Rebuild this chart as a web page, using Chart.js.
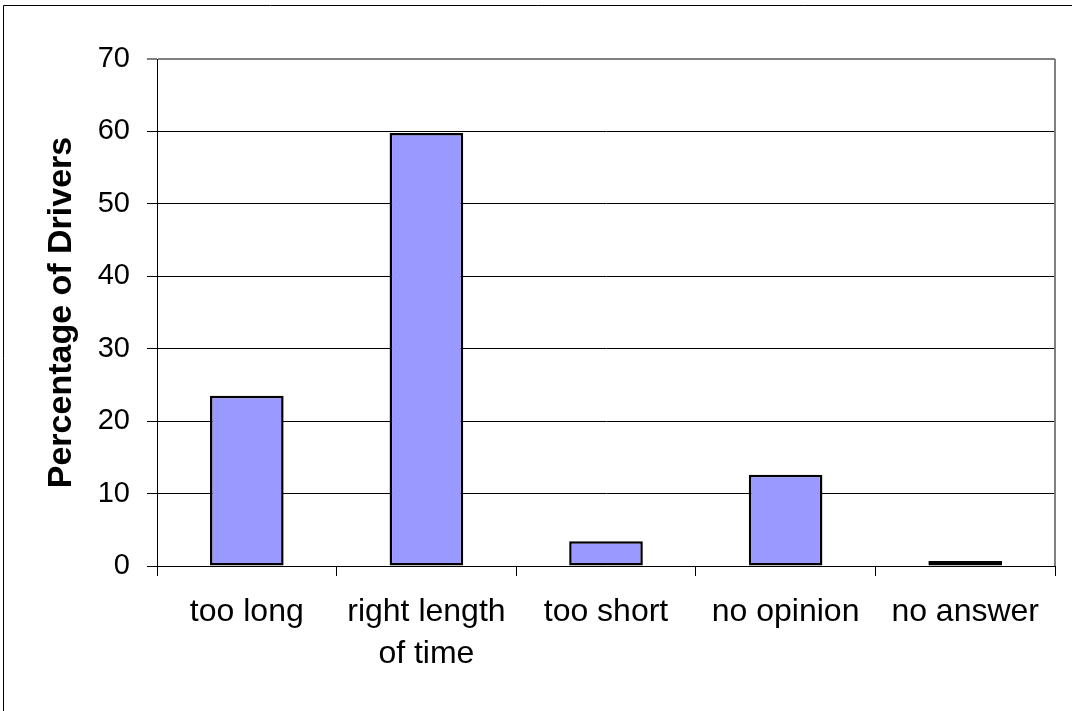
<!DOCTYPE html>
<html>
<head>
<meta charset="utf-8">
<title>Percentage of Drivers</title>
<script src="https://cdn.jsdelivr.net/npm/chart.js@4"></script>
<style>
  body { margin: 0; background: #fff; }
</style>
</head>
<body>
<canvas id="myChart" width="1072" height="711"></canvas>
<script>
// chart data
var categories = [["too long"], ["right length", "of time"], ["too short"], ["no opinion"], ["no answer"]];
var percentages = [23.5, 59.8, 3.4, 12.6, 0.7];
var yMin = 0;
var yMax = 70;
var yStep = 10;
var yTitle = "Percentage of Drivers";

var fontName = "'Liberation Sans', Arial, sans-serif";

// outer frame + grey plot border on the right
const framePlugin = {
    id: "frame",
    afterDraw: (chart) => {
        const ctx = chart.ctx;
        const a = chart.chartArea;
        ctx.save();
        ctx.strokeStyle = "#808080";
        ctx.lineWidth = 2;
        ctx.beginPath();
        ctx.moveTo(a.right, a.top);
        ctx.lineTo(a.right, a.bottom);
        ctx.stroke();
        ctx.strokeStyle = "#000";
        ctx.lineWidth = 1;
        ctx.beginPath();
        ctx.moveTo(3.5, 711);
        ctx.lineTo(3.5, 5.5);
        ctx.lineTo(1072, 5.5);
        ctx.stroke();
        ctx.restore();
    }
};

new Chart("myChart", {
    type: "bar",
    data: {
        labels: categories,
        datasets: [{
            data: percentages,
            backgroundColor: "#9999ff",
            borderColor: "#000",
            borderWidth: 2.5,
            borderSkipped: false,
            categoryPercentage: 1,
            barPercentage: 0.41
        }]
    },
    options: {
        responsive: false,
        animation: false,
        layout: {
            padding: { top: 59, right: 17, bottom: 0, left: 0 }
        },
        plugins: {
            legend: { display: false },
            tooltip: { enabled: false }
        },
        scales: {
            x: {
                afterFit: (scale) => { scale.height = 145; },
                grid: {
                    offset: true,
                    drawOnChartArea: false,
                    color: "#000",
                    tickLength: 10
                },
                border: { color: "#000", width: 1 },
                ticks: {
                    color: "#000",
                    font: { family: fontName, size: 32, lineHeight: 1.32 },
                    padding: 15,
                    maxRotation: 0,
                    autoSkip: false
                }
            },
            y: {
                min: yMin,
                max: yMax,
                afterFit: (scale) => { scale.width = 157; },
                grid: {
                    color: (c) => c.tick && c.tick.value === yMax ? "#808080" : "#000",
                    lineWidth: (c) => c.tick && c.tick.value === yMax ? 2 : 1,
                    tickLength: 10
                },
                border: { color: "#000", width: 1 },
                ticks: {
                    stepSize: yStep,
                    color: "#000",
                    font: { family: fontName, size: 29 },
                    padding: 17
                },
                title: {
                    display: true,
                    text: yTitle,
                    color: "#000",
                    font: { family: fontName, size: 34, weight: "bold" },
                    padding: { top: 41, bottom: 0 }
                }
            }
        }
    },
    plugins: [framePlugin]
});
</script>
</body>
</html>
